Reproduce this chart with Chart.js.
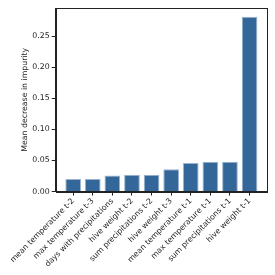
<!DOCTYPE html>
<html>
<head>
<meta charset="utf-8">
<script src="https://cdn.jsdelivr.net/npm/chart.js@4"></script>
<style>
  html, body { margin: 0; padding: 0; background: #fff; }
  #wrap { width: 275px; height: 275px; }
</style>
</head>
<body>
<div id="wrap"><canvas id="myChart"></canvas></div>
<script>
const features = ['mean temperature t-2', 'max temperature t-3', 'days with precipitations',
  'hive weight t-2', 'sum precipitations t-2', 'hive weight t-3', 'mean temperature t-1',
  'max temperature t-1', 'sum precipitations t-1', 'hive weight t-1'];
const importances = [0.020, 0.020, 0.026, 0.027, 0.027, 0.036, 0.046, 0.048, 0.048, 0.281];
const yTicks = [0, 0.05, 0.10, 0.15, 0.20, 0.25];

const font = { family: 'DejaVu Sans', size: 7.8 };
const ink = '#222';

// matplotlib-style box around the plot
const frame = {
  id: 'frame',
  afterDraw(chart) {
    const a = chart.chartArea, c = chart.ctx;
    c.save();
    c.strokeStyle = ink;
    c.lineWidth = 1;
    c.strokeRect(Math.round(a.left) + 0.5, Math.round(a.top) + 0.5,
      Math.round(a.right - a.left), Math.round(a.bottom - a.top));
    c.restore();
  }
};

const ctx = document.getElementById('myChart').getContext('2d');
const myChart = new Chart(ctx, {
  type: 'bar',
  data: {
    datasets: [{
      data: features.map((f, i) => ({ x: i, y: importances[i] })),
      backgroundColor: '#336699',
      borderColor: '#9ab3d0',
      borderWidth: 1,
      barPercentage: 0.8,
      categoryPercentage: 1
    }]
  },
  plugins: [frame],
  options: {
    responsive: true,
    maintainAspectRatio: false,
    animation: false,
    layout: { padding: { top: 8, right: 8, bottom: 5, left: 20 } },
    plugins: { legend: { display: false }, tooltip: { enabled: false } },
    scales: {
      x: {
        type: 'linear',
        offset: false,
        min: -0.89,
        max: 9.89,
        afterBuildTicks: (scale) => { scale.ticks = features.map((f, i) => ({ value: i })); },
        grid: { offset: false, drawOnChartArea: false, color: ink, tickLength: 4 },
        border: { color: ink },
        ticks: {
          autoSkip: false,
          minRotation: 45,
          maxRotation: 45,
          padding: 1,
          color: ink,
          font: font,
          callback: (v) => features[v]
        }
      },
      y: {
        min: 0,
        max: 0.295,
        afterBuildTicks: (scale) => { scale.ticks = yTicks.map(v => ({ value: v })); },
        grid: { drawOnChartArea: false, color: ink, tickLength: 4 },
        border: { color: ink },
        ticks: {
          color: ink,
          font: font,
          padding: 2,
          callback: (v) => v.toFixed(2)
        },
        title: {
          display: true,
          text: 'Mean decrease in impurity',
          color: ink,
          font: font,
          padding: { top: 0, bottom: 1 }
        }
      }
    }
  }
});
</script>
</body>
</html>
